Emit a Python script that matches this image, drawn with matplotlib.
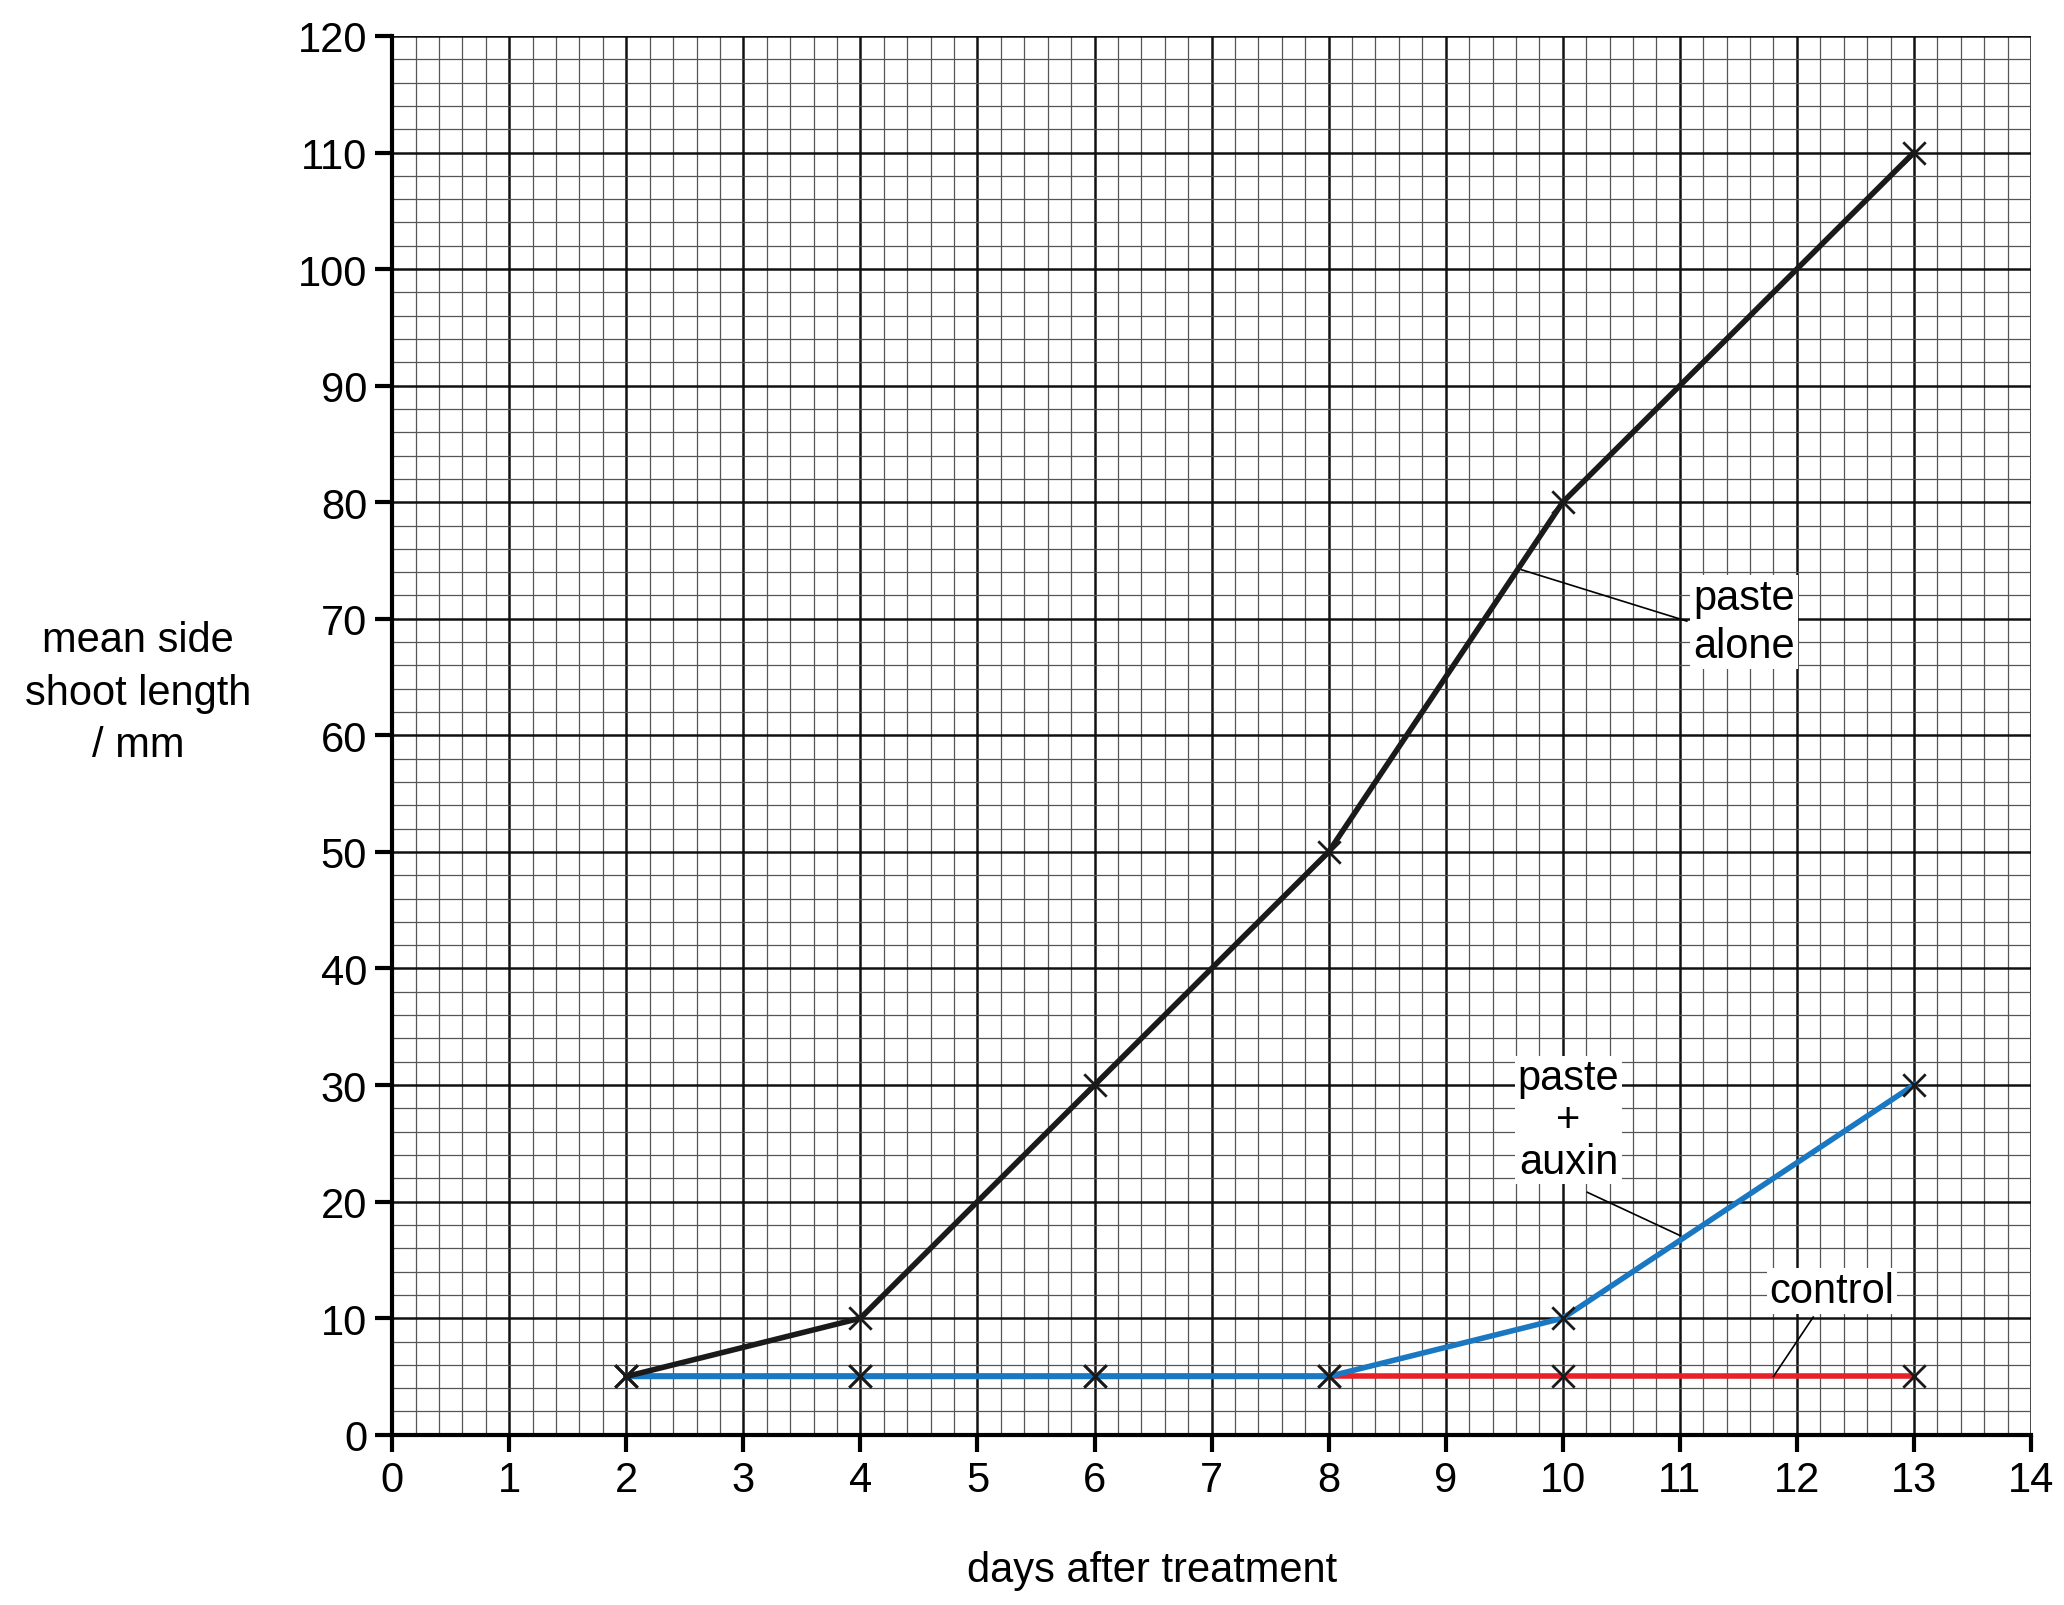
import matplotlib
matplotlib.use('Agg')
import matplotlib.pyplot as plt
from matplotlib.ticker import MultipleLocator

plt.rcParams['font.family'] = ['Liberation Sans', 'DejaVu Sans']

# данные
days_control = [2, 4, 6, 8, 10, 13]
control = [5, 5, 5, 5, 5, 5]
days_auxin = [2, 4, 6, 8, 10, 13]
paste_auxin = [5, 5, 5, 5, 10, 30]
days_alone = [2, 4, 6, 8, 10, 13]
paste_alone = [5, 10, 30, 50, 80, 110]

fig = plt.figure(figsize=(20.64, 16.06), dpi=100)
ax = fig.add_axes([0.190, 0.106, 0.794, 0.871])
ax.set_xlim(0, 14)
ax.set_ylim(0, 120)

ax.xaxis.set_major_locator(MultipleLocator(1))
ax.xaxis.set_minor_locator(MultipleLocator(0.2))
ax.yaxis.set_major_locator(MultipleLocator(10))
ax.yaxis.set_minor_locator(MultipleLocator(2))
ax.grid(which='minor', color='#555555', lw=0.9)
ax.grid(which='major', color='#111111', lw=1.8)
ax.set_axisbelow(True)

for s in ['top', 'right']:
    ax.spines[s].set_visible(False)
for s in ['left', 'bottom']:
    ax.spines[s].set_linewidth(3)
ax.tick_params(which='major', direction='out', length=12, width=3, labelsize=30, pad=6)
ax.tick_params(which='minor', length=0)

ax.plot(days_control, control, color='#e8202a', lw=4, zorder=3)
ax.plot(days_auxin, paste_auxin, color='#1a78c2', lw=4, zorder=4)
ax.plot(days_alone, paste_alone, color='#1a1a1a', lw=4, zorder=5)
ax.scatter(days_alone + days_auxin + days_control, paste_alone + paste_auxin + control,
           marker='x', s=260, color='#1a1a1a', linewidths=2, zorder=6)

box = dict(facecolor='white', edgecolor='none', pad=2)
ax.plot([9.65, 11.06], [74.2, 69.8], color='black', lw=1.2, zorder=6)
ax.text(11.55, 69.7, 'paste\nalone', fontsize=30, ha='center', va='center', bbox=box, zorder=7, linespacing=1.25)
ax.plot([10.21, 11.0], [20.8, 17.1], color='black', lw=1.2, zorder=6)
ax.text(10.05, 27, 'paste\n+\nauxin', fontsize=30, ha='center', va='center', bbox=box, zorder=7, linespacing=1.05)
ax.plot([12.14, 11.8], [10.1, 5], color='black', lw=1.2, zorder=6)
ax.text(12.3, 12.3, 'control', fontsize=30, ha='center', va='center', bbox=box, zorder=7)

fig.text(0.067, 0.568, 'mean side\nshoot length\n/ mm', fontsize=30, ha='center', va='center', linespacing=1.4)
fig.text(0.558, 0.022, 'days after treatment', fontsize=30, ha='center', va='center')

fig.savefig('out.png', dpi=100, facecolor='white')
